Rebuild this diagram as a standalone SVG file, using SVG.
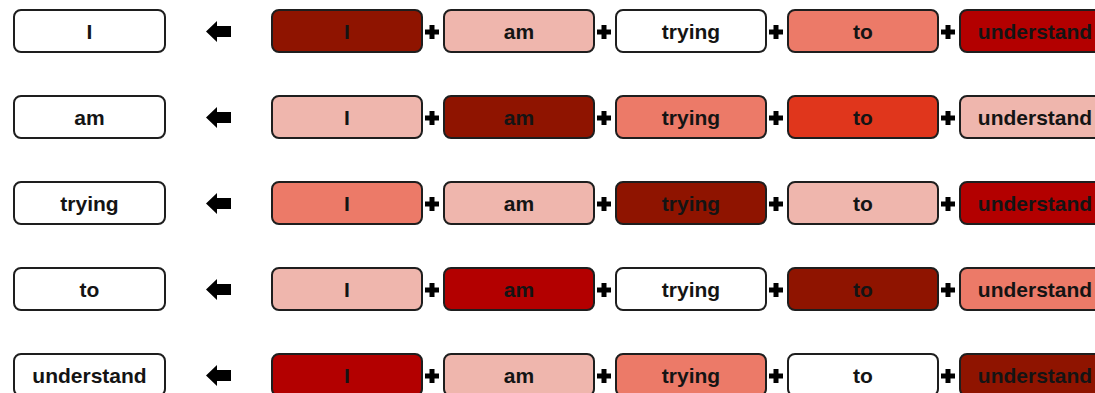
<svg xmlns="http://www.w3.org/2000/svg" width="1095" height="393" viewBox="0 0 1095 393">
<defs>
<style>
.b{stroke:#1e1e1e;stroke-width:2;}
.w{fill:#ffffff}.d{fill:#8f1400}.p{fill:#efb6ad}.s{fill:#ec7a68}.o{fill:#e0361c}.r{fill:#b30000}
text{font-family:"Liberation Sans",Arial,sans-serif;font-weight:bold;font-size:21px;fill:#141414;text-anchor:middle}
.cn{fill:#000}
</style>
<symbol id="arrow" viewBox="0 0 25 21" overflow="visible">
<path d="M0,10.5 L11,0 L11,5 L25,5 L25,16 L11,16 L11,21 Z"/>
</symbol>
<symbol id="plus" viewBox="0 0 14 14" overflow="visible">
<path d="M4.5,0 H9.5 V4.5 H14 V9.5 H9.5 V14 H4.5 V9.5 H0 V4.5 H4.5 Z"/>
</symbol>
</defs>
<rect width="1095" height="393" fill="#ffffff"/>
<g id="connectors" class="cn">
<use href="#arrow" x="206" y="21" width="25" height="21"/>
<use href="#arrow" x="206" y="107" width="25" height="21"/>
<use href="#arrow" x="206" y="193" width="25" height="21"/>
<use href="#arrow" x="206" y="279" width="25" height="21"/>
<use href="#arrow" x="206" y="365" width="25" height="21"/>
<use href="#plus" x="425" y="25" width="14" height="14"/><use href="#plus" x="597" y="25" width="14" height="14"/><use href="#plus" x="769" y="25" width="14" height="14"/><use href="#plus" x="941" y="25" width="14" height="14"/>
<use href="#plus" x="425" y="111" width="14" height="14"/><use href="#plus" x="597" y="111" width="14" height="14"/><use href="#plus" x="769" y="111" width="14" height="14"/><use href="#plus" x="941" y="111" width="14" height="14"/>
<use href="#plus" x="425" y="197" width="14" height="14"/><use href="#plus" x="597" y="197" width="14" height="14"/><use href="#plus" x="769" y="197" width="14" height="14"/><use href="#plus" x="941" y="197" width="14" height="14"/>
<use href="#plus" x="425" y="283" width="14" height="14"/><use href="#plus" x="597" y="283" width="14" height="14"/><use href="#plus" x="769" y="283" width="14" height="14"/><use href="#plus" x="941" y="283" width="14" height="14"/>
<use href="#plus" x="425" y="369" width="14" height="14"/><use href="#plus" x="597" y="369" width="14" height="14"/><use href="#plus" x="769" y="369" width="14" height="14"/><use href="#plus" x="941" y="369" width="14" height="14"/>
</g>
<!-- Row 1 -->
<g id="out1"><rect class="b w" x="14" y="10" width="151" height="42" rx="7"/><text x="89.5" y="38.5">I</text></g>
<g id="r1c1"><rect class="b d" x="272" y="10" width="150" height="42" rx="7"/><text x="347" y="38.5">I</text></g>
<g id="r1c2"><rect class="b p" x="444" y="10" width="150" height="42" rx="7"/><text x="519" y="38.5">am</text></g>
<g id="r1c3"><rect class="b w" x="616" y="10" width="150" height="42" rx="7"/><text x="691" y="38.5">trying</text></g>
<g id="r1c4"><rect class="b s" x="788" y="10" width="150" height="42" rx="7"/><text x="863" y="38.5">to</text></g>
<g id="r1c5"><rect class="b r" x="960" y="10" width="150" height="42" rx="7"/><text x="1035" y="38.5">understand</text></g>
<!-- Row 2 -->
<g id="out2"><rect class="b w" x="14" y="96" width="151" height="42" rx="7"/><text x="89.5" y="124.5">am</text></g>
<g id="r2c1"><rect class="b p" x="272" y="96" width="150" height="42" rx="7"/><text x="347" y="124.5">I</text></g>
<g id="r2c2"><rect class="b d" x="444" y="96" width="150" height="42" rx="7"/><text x="519" y="124.5">am</text></g>
<g id="r2c3"><rect class="b s" x="616" y="96" width="150" height="42" rx="7"/><text x="691" y="124.5">trying</text></g>
<g id="r2c4"><rect class="b o" x="788" y="96" width="150" height="42" rx="7"/><text x="863" y="124.5">to</text></g>
<g id="r2c5"><rect class="b p" x="960" y="96" width="150" height="42" rx="7"/><text x="1035" y="124.5">understand</text></g>
<!-- Row 3 -->
<g id="out3"><rect class="b w" x="14" y="182" width="151" height="42" rx="7"/><text x="89.5" y="210.5">trying</text></g>
<g id="r3c1"><rect class="b s" x="272" y="182" width="150" height="42" rx="7"/><text x="347" y="210.5">I</text></g>
<g id="r3c2"><rect class="b p" x="444" y="182" width="150" height="42" rx="7"/><text x="519" y="210.5">am</text></g>
<g id="r3c3"><rect class="b d" x="616" y="182" width="150" height="42" rx="7"/><text x="691" y="210.5">trying</text></g>
<g id="r3c4"><rect class="b p" x="788" y="182" width="150" height="42" rx="7"/><text x="863" y="210.5">to</text></g>
<g id="r3c5"><rect class="b r" x="960" y="182" width="150" height="42" rx="7"/><text x="1035" y="210.5">understand</text></g>
<!-- Row 4 -->
<g id="out4"><rect class="b w" x="14" y="268" width="151" height="42" rx="7"/><text x="89.5" y="296.5">to</text></g>
<g id="r4c1"><rect class="b p" x="272" y="268" width="150" height="42" rx="7"/><text x="347" y="296.5">I</text></g>
<g id="r4c2"><rect class="b r" x="444" y="268" width="150" height="42" rx="7"/><text x="519" y="296.5">am</text></g>
<g id="r4c3"><rect class="b w" x="616" y="268" width="150" height="42" rx="7"/><text x="691" y="296.5">trying</text></g>
<g id="r4c4"><rect class="b d" x="788" y="268" width="150" height="42" rx="7"/><text x="863" y="296.5">to</text></g>
<g id="r4c5"><rect class="b s" x="960" y="268" width="150" height="42" rx="7"/><text x="1035" y="296.5">understand</text></g>
<!-- Row 5 -->
<g id="out5"><rect class="b w" x="14" y="354" width="151" height="42" rx="7"/><text x="89.5" y="382.5">understand</text></g>
<g id="r5c1"><rect class="b r" x="272" y="354" width="150" height="42" rx="7"/><text x="347" y="382.5">I</text></g>
<g id="r5c2"><rect class="b p" x="444" y="354" width="150" height="42" rx="7"/><text x="519" y="382.5">am</text></g>
<g id="r5c3"><rect class="b s" x="616" y="354" width="150" height="42" rx="7"/><text x="691" y="382.5">trying</text></g>
<g id="r5c4"><rect class="b w" x="788" y="354" width="150" height="42" rx="7"/><text x="863" y="382.5">to</text></g>
<g id="r5c5"><rect class="b d" x="960" y="354" width="150" height="42" rx="7"/><text x="1035" y="382.5">understand</text></g>
</svg>
